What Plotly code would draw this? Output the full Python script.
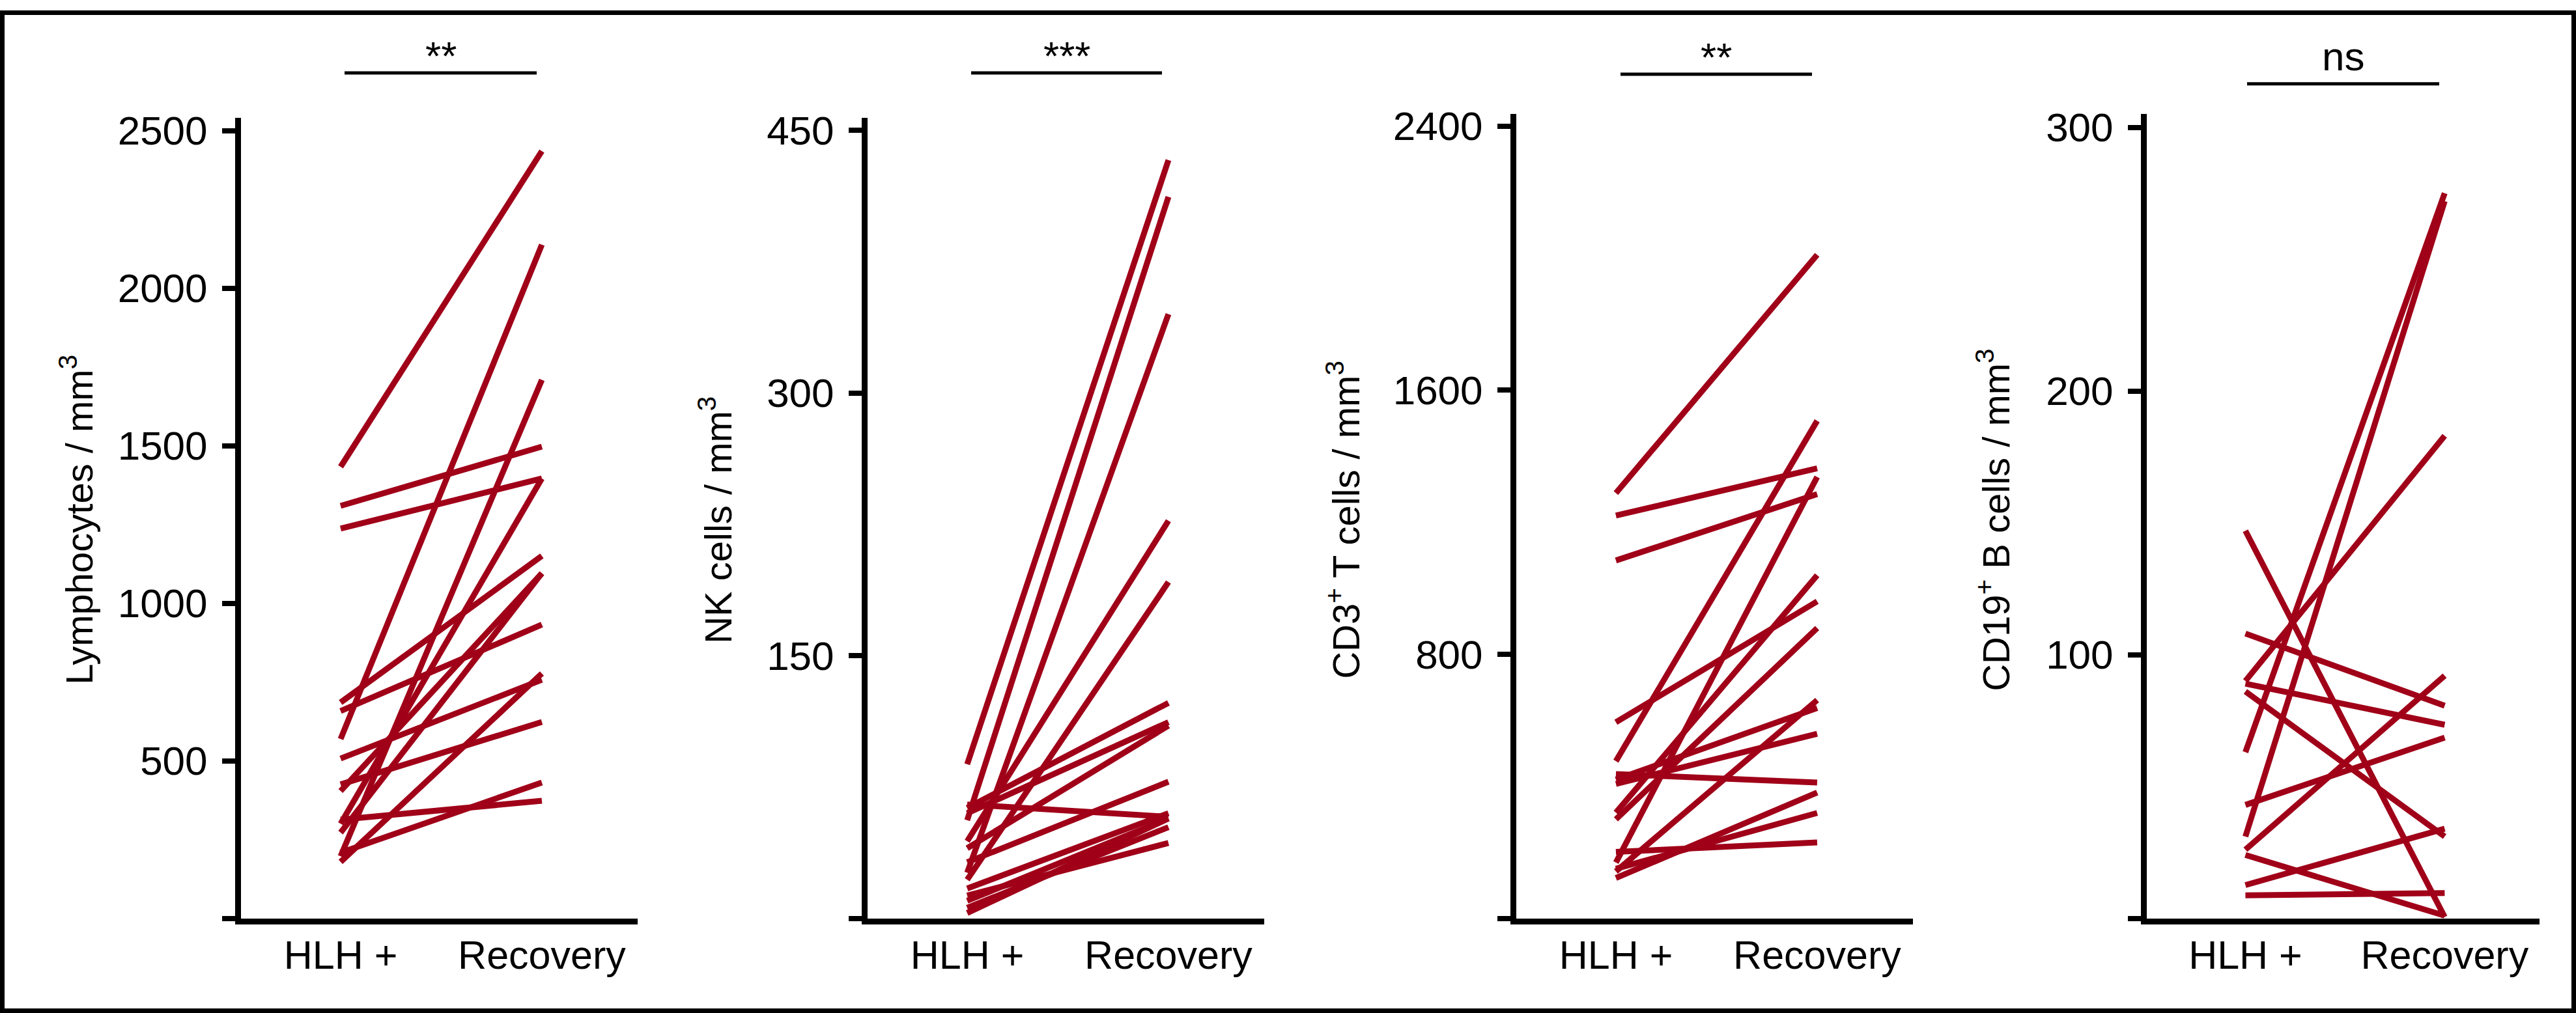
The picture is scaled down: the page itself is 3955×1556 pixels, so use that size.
import plotly.graph_objects as go

# ---------------- data ----------------
categories = ["HLH +", "Recovery"]

lymph_hlh = [1433, 1309, 1237, 569, 685, 658, 507, 179, 425, 208, 313, 197, 300, 404, 272]
lymph_rec = [2435, 1497, 1396, 2138, 1150, 932, 757, 777, 623, 431, 373, 1709, 1396, 1095, 1095]

nk_hlh = [88, 56, 26, 44, 22, 63, 60, 40, 65, 32, 17, 10, 6, 3, 13]
nk_rec = [433, 412, 345, 227, 192, 123, 112, 110, 58, 78, 60, 57, 52, 57, 43]

cd3_hlh = [1288, 1220, 1084, 594, 476, 320, 300, 169, 437, 420, 407, 201, 142, 122, 150]
cd3_rec = [2010, 1363, 1285, 960, 1507, 1039, 879, 1337, 411, 637, 559, 230, 661, 381, 319]

cd19_hlh = [147, 108, 89, 86, 90, 63, 31, 43, 26, 24, 12.6, 8.7]
cd19_rec = [0.5, 80.6, 73.4, 31, 183, 275, 272, 68.5, 92, 1, 34, 9.6]

lymph_ticks = [0, 500, 1000, 1500, 2000, 2500]
nk_ticks = [0, 150, 300, 450]
cd3_ticks = [0, 800, 1600, 2400]
cd19_ticks = [0, 100, 200, 300]

titles = ["Lymphocytes / mm<sup>3</sup>",
          "NK cells / mm<sup>3</sup>",
          "CD3<sup>+</sup> T cells / mm<sup>3</sup>",
          "CD19<sup>+</sup> B cells / mm<sup>3</sup>"]
significance = ["**", "***", "**", "ns"]

# ---------------- layout geometry ----------------
W, H = 3955, 1556
RED = "#A00018"
FONT = "Liberation Sans, Arial, sans-serif"

panels = [
    dict(hlh=lymph_hlh, rec=lymph_rec, ticks=lymph_ticks, ymax=2540, xd=(370, 979), ytop=167,
         title_x=118, sig=(529, 824, 97)),
    dict(hlh=nk_hlh, rec=nk_rec, ticks=nk_ticks, ymax=457, xd=(1332, 1941), ytop=167,
         title_x=1099, sig=(1491, 1784, 97)),
    dict(hlh=cd3_hlh, rec=cd3_rec, ticks=cd3_ticks, ymax=2436, xd=(2328, 2937), ytop=161,
         title_x=2063, sig=(2488, 2782, 99)),
    dict(hlh=cd19_hlh, rec=cd19_rec, ticks=cd19_ticks, ymax=305, xd=(3296, 3899), ytop=161,
         title_x=3061, sig=(3450, 3745, 114)),
]
YBOT = 1409

fig = go.Figure()
shapes = []
annotations = []

for i, p in enumerate(panels):
    n = i + 1
    xa = "x" if n == 1 else f"x{n}"
    ya = "y" if n == 1 else f"y{n}"
    for h, r in zip(p["hlh"], p["rec"]):
        fig.add_trace(go.Scatter(x=[0, 1], y=[h, r], mode="lines",
                                 line=dict(color=RED, width=9),
                                 xaxis=xa, yaxis=ya, showlegend=False, hoverinfo="skip"))
    xdom = [p["xd"][0] / W, p["xd"][1] / W]
    ydom = [(H - YBOT) / H, (H - p["ytop"]) / H]
    xkey = "xaxis" if n == 1 else f"xaxis{n}"
    ykey = "yaxis" if n == 1 else f"yaxis{n}"
    fig.update_layout({
        xkey: dict(domain=xdom, anchor=ya, range=[-0.495, 1.476],
                   tickvals=[0, 1], ticktext=categories, ticks="",
                   showline=True, linewidth=9, linecolor="black",
                   showgrid=False, zeroline=False,
                   tickfont=dict(family=FONT, size=61, color="black"),
                   ticklabelstandoff=-5),
        ykey: dict(domain=ydom, anchor=xa, range=[0, p["ymax"]],
                   tickvals=p["ticks"], ticktext=[""] + [str(t) for t in p["ticks"][1:]],
                   ticks="outside", ticklen=20, tickwidth=8, tickcolor="black",
                   showline=True, linewidth=9, linecolor="black",
                   showgrid=False, zeroline=False,
                   tickfont=dict(family=FONT, size=62, color="black"),
                   ticklabelstandoff=10),
    })
    # axis title
    annotations.append(dict(text=titles[i], textangle=-90, x=p["title_x"] / W, y=(H - 791) / H,
                            xref="paper", yref="paper", xanchor="center", yanchor="middle",
                            showarrow=False, font=dict(family=FONT, size=58, color="black")))
    # significance bar
    x0, x1, yl = p["sig"]
    shapes.append(dict(type="line", xref="paper", yref="paper",
                       x0=x0 / W, x1=x1 / W, y0=(H - yl) / H, y1=(H - yl) / H,
                       line=dict(color="black", width=5)))
    # stars sit high in their text box, so their box is anchored lower than "ns"
    off = 6 if significance[i] == "ns" else -10
    annotations.append(dict(text=significance[i], x=(x0 + x1) / 2 / W, y=(H - yl + off) / H,
                            xref="paper", yref="paper", xanchor="center", yanchor="bottom",
                            showarrow=False, font=dict(family=FONT, size=62, color="black")))

# frame around the whole figure (kept fully inside the canvas)
B = 7
shapes.append(dict(type="rect", xref="paper", yref="paper",
                   x0=(B / 2) / W, x1=1 - (B / 2) / W, y0=(B / 2) / H, y1=1 - (B / 2) / H,
                   line=dict(color="black", width=B), fillcolor="rgba(0,0,0,0)"))

fig.update_layout(width=W, height=H, margin=dict(l=0, r=0, t=0, b=0),
                  paper_bgcolor="white", plot_bgcolor="white",
                  shapes=shapes, annotations=annotations, showlegend=False)

fig.write_html("out.html", config={"displayModeBar": False},
               post_script="document.body.style.margin='0px';document.body.style.overflow='hidden';")
